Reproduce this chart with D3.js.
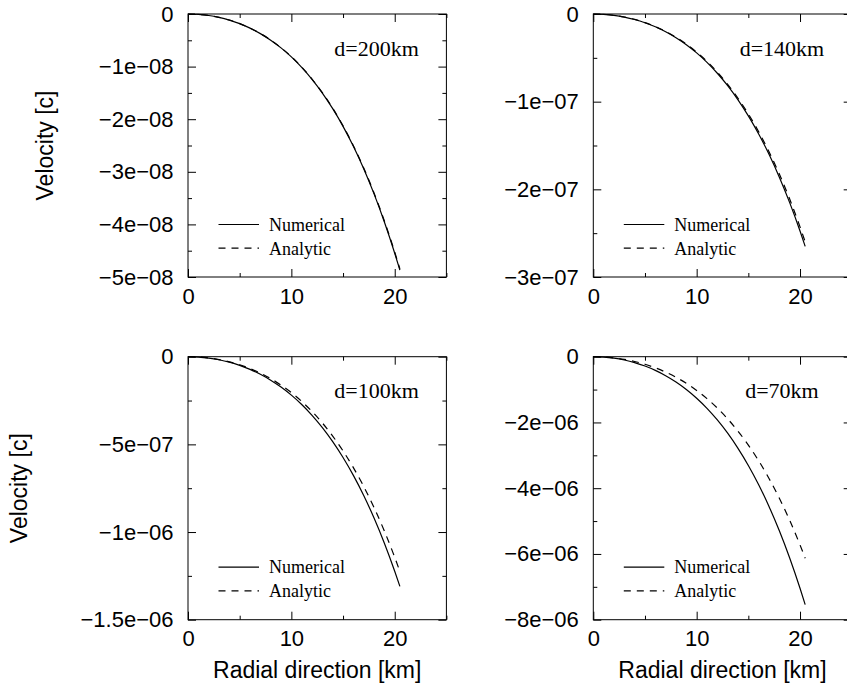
<!DOCTYPE html>
<html><head><meta charset="utf-8">
<script src="https://cdn.jsdelivr.net/npm/d3@7"></script>
<style>body{margin:0;background:#fff}svg{display:block}</style>
</head><body>
<svg id="chart" width="847" height="686"></svg>
<script>
// ---- data (velocity values in units of the panel's exponent) ----
const radius = [0,1,2,3,4,5,6,7,8,9,10,11,12,13,14,15,16,17,18,19,20,20.5];
const panelLabels = ["d=200km","d=140km","d=100km","d=70km"];
const numerical200 = [0,-0.0071,-0.0285,-0.0646,-0.116,-0.184,-0.269,-0.373,-0.497,-0.644,-0.815,-1.014,-1.242,-1.503,-1.800,-2.136,-2.516,-2.942,-3.420,-3.954,-4.549,-4.87];
const analytic200  = [0,-0.0071,-0.0284,-0.0643,-0.115,-0.183,-0.268,-0.371,-0.495,-0.641,-0.811,-1.009,-1.236,-1.496,-1.791,-2.125,-2.503,-2.927,-3.403,-3.934,-4.526,-4.845];
const numerical140 = [0,-0.00386,-0.0155,-0.0351,-0.0631,-0.1000,-0.1462,-0.2028,-0.2705,-0.3503,-0.4436,-0.5516,-0.6759,-0.8178,-0.9794,-1.1624,-1.3689,-1.6010,-1.8612,-2.1518,-2.4753,-2.65];
const analytic140  = [0,-0.00378,-0.0152,-0.0345,-0.0619,-0.0981,-0.1435,-0.1990,-0.2654,-0.3437,-0.4352,-0.5412,-0.6631,-0.8024,-0.9609,-1.1404,-1.3430,-1.5708,-1.8261,-2.1112,-2.4286,-2.60];
const numerical100 = [0,-0.00191,-0.00766,-0.01737,-0.0312,-0.0494,-0.0723,-0.1002,-0.1337,-0.1732,-0.2193,-0.2727,-0.3341,-0.4043,-0.4841,-0.5746,-0.6767,-0.7914,-0.9201,-1.0637,-1.2236,-1.31];
const analytic100  = [0,-0.00178,-0.00717,-0.01624,-0.0292,-0.0462,-0.0676,-0.0937,-0.1250,-0.1619,-0.2051,-0.2550,-0.3124,-0.3780,-0.4527,-0.5373,-0.6328,-0.7401,-0.8604,-0.9947,-1.1442,-1.225];
const numerical70  = [0,-0.01097,-0.0441,-0.1000,-0.1795,-0.2844,-0.4161,-0.5770,-0.7695,-0.9968,-1.2622,-1.5695,-1.9230,-2.3268,-2.7866,-3.3073,-3.8948,-4.5554,-5.2956,-6.1224,-7.0430,-7.54];
const analytic70   = [0,-0.00892,-0.0359,-0.0813,-0.1460,-0.2312,-0.3383,-0.4691,-0.6256,-0.8104,-1.0262,-1.2760,-1.5634,-1.8917,-2.2655,-2.6888,-3.1665,-3.7035,-4.3053,-4.9775,-5.7259,-6.13];

const yMin = [-5,-3,-1.5,-8];
const yMajor = [[0,-1,-2,-3,-4,-5],[0,-1,-2,-3],[0,-0.5,-1,-1.5],[0,-2,-4,-6,-8]];
const yMajorLabels = [
  ["0","\u22121e\u221208","\u22122e\u221208","\u22123e\u221208","\u22124e\u221208","\u22125e\u221208"],
  ["0","\u22121e\u221207","\u22122e\u221207","\u22123e\u221207"],
  ["0","\u22125e\u221207","\u22121e\u221206","\u22121.5e\u221206"],
  ["0","\u22122e\u221206","\u22124e\u221206","\u22126e\u221206","\u22128e\u221206"]
];
const yMinor = [[-0.5,-1.5,-2.5,-3.5,-4.5],[-0.5,-1.5,-2.5],[-0.25,-0.75,-1.25],[-1,-3,-5,-7]];
const xMajor = [0,10,20];
const xMajorLabels = ["0","10","20"];
const xMinor = [5,15,25];
const legendLabels = ["Numerical","Analytic"];
const xTitle = "Radial direction [km]";
const yTitle = "Velocity [c]";

// ---- layout ----
const numericalSeries = [numerical200,numerical140,numerical100,numerical70];
const analyticSeries = [analytic200,analytic140,analytic100,analytic70];
const colLeft = [188, 593.3], rowTop = [14, 356.7];
const pw = 258.4, ph = 263;
const yTitleX = [53, 27];
const sans = "'Liberation Sans', Arial, Helvetica, sans-serif";
const serif = "'Liberation Serif', 'Times New Roman', Times, serif";
const tickFs = 22, titleFs = 23;

const svg = d3.select("#chart");
svg.append("rect").attr("width",847).attr("height",686).attr("fill","#fff");

for (let p = 0; p < 4; p++) {
  const col = p % 2, row = Math.floor(p / 2);
  const L = colLeft[col], T = rowTop[row];
  const g = svg.append("g").attr("transform", `translate(${L},${T})`);
  const x = d3.scaleLinear().domain([0,25]).range([0,pw]);
  const y = d3.scaleLinear().domain([yMin[p],0]).range([ph,0]);

  function styleAxis(sel) {
    sel.select(".domain").remove();
    sel.selectAll(".tick line").attr("stroke","#000").attr("stroke-width",1);
    sel.selectAll(".tick text").attr("fill","#000").attr("font-family",sans).attr("font-size",tickFs);
  }
  g.append("g").call(d3.axisLeft(y).tickValues(yMajor[p]).tickFormat((d,i)=>yMajorLabels[p][i])
      .tickSizeInner(-8).tickSizeOuter(0).tickPadding(14.5)).call(styleAxis);
  g.append("g").call(d3.axisLeft(y).tickValues(yMinor[p]).tickFormat("").tickSizeInner(-4).tickSizeOuter(0)).call(styleAxis);
  g.append("g").attr("transform",`translate(${pw},0)`).call(d3.axisRight(y).tickValues(yMajor[p]).tickFormat("").tickSizeInner(-8).tickSizeOuter(0)).call(styleAxis);
  g.append("g").attr("transform",`translate(${pw},0)`).call(d3.axisRight(y).tickValues(yMinor[p]).tickFormat("").tickSizeInner(-4).tickSizeOuter(0)).call(styleAxis);
  g.append("g").attr("transform",`translate(0,${ph})`).call(d3.axisBottom(x).tickValues(xMajor).tickFormat((d,i)=>xMajorLabels[i])
      .tickSizeInner(-8).tickSizeOuter(0).tickPadding(11)).call(styleAxis);
  g.append("g").attr("transform",`translate(0,${ph})`).call(d3.axisBottom(x).tickValues(xMinor).tickFormat("").tickSizeInner(-4).tickSizeOuter(0)).call(styleAxis);
  g.append("g").call(d3.axisTop(x).tickValues(xMajor).tickFormat("").tickSizeInner(-8).tickSizeOuter(0)).call(styleAxis);
  g.append("g").call(d3.axisTop(x).tickValues(xMinor).tickFormat("").tickSizeInner(-4).tickSizeOuter(0)).call(styleAxis);

  g.append("rect").attr("x",0).attr("y",0).attr("width",pw).attr("height",ph)
    .attr("fill","none").attr("stroke","#000").attr("stroke-width",1);

  const line = d3.line().x((d,i)=>x(radius[i])).y(d=>y(d)).curve(d3.curveMonotoneX);
  g.append("path").datum(analyticSeries[p]).attr("d",line).attr("fill","none")
    .attr("stroke","#000").attr("stroke-width",1.2).attr("stroke-dasharray","7,6");
  g.append("path").datum(numericalSeries[p]).attr("d",line).attr("fill","none")
    .attr("stroke","#000").attr("stroke-width",1.2);

  g.append("text").attr("x",x(18.25)).attr("y",41.5).attr("text-anchor","middle")
    .attr("font-family",serif).attr("font-size",22).attr("fill","#000").text(panelLabels[p]);

  const legY = [210.5, 234.2];
  legendLabels.forEach((lab,i)=>{
    g.append("line").attr("x1",30.5).attr("x2",71).attr("y1",legY[i]).attr("y2",legY[i])
      .attr("stroke","#000").attr("stroke-width",1.2).attr("stroke-dasharray", i===1 ? "7,6" : null);
    g.append("text").attr("x",81).attr("y",legY[i]+6.3).attr("font-family",serif)
      .attr("font-size",18).attr("fill","#000").text(lab);
  });

  if (col === 0) {
    svg.append("text").attr("transform",`translate(${yTitleX[row]},${T+ph/2}) rotate(-90)`)
      .attr("text-anchor","middle").attr("font-family",sans).attr("font-size",titleFs).attr("fill","#000").text(yTitle);
  }
  if (row === 1) {
    svg.append("text").attr("x",L+pw/2).attr("y",678).attr("text-anchor","middle")
      .attr("font-family",sans).attr("font-size",titleFs).attr("fill","#000").text(xTitle);
  }
}
</script>
</body></html>
